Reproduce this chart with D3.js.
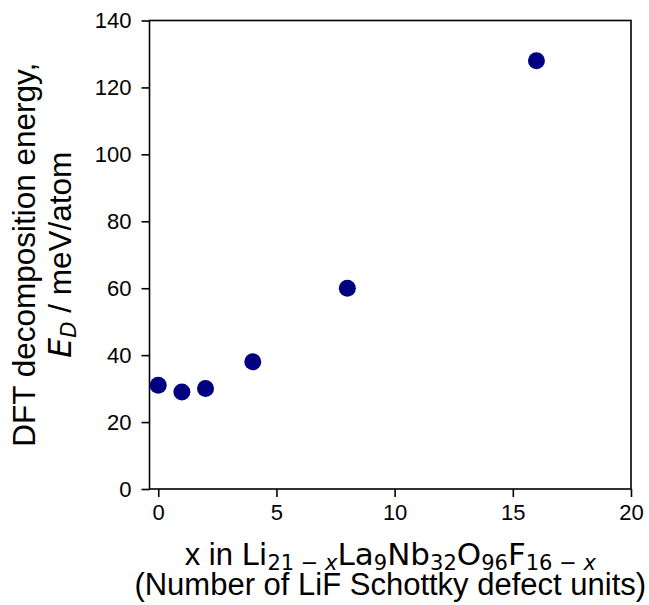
<!DOCTYPE html>
<html lang="en">
<head>
<meta charset="UTF-8">
<title>DFT decomposition energy</title>
<script src="https://d3js.org/d3.v7.min.js"></script>
<style>
  body { margin: 0; background: #fff; }
  svg text { font-family: "Liberation Sans", Arial, sans-serif; fill: #000; }
  .math { font-family: "DejaVu Sans", sans-serif; }
</style>
</head>
<body>
<svg id="chart" width="649" height="605"></svg>
<script>
// data
var xValues = [0, 1, 2, 4, 8, 16];
var energies = [31, 29, 30, 38, 60, 128];
var xTicks = [0, 5, 10, 15, 20];
var yTicks = [0, 20, 40, 60, 80, 100, 120, 140];

var svg = d3.select("#chart");
var margin = {left: 149.5, right: 18, top: 20.5, bottom: 116};
var width = 649, height = 605;

var x = d3.scaleLinear()
    .domain([-0.37, 20])
    .range([margin.left, width - margin.right]);
var y = d3.scaleLinear()
    .domain([0, 140])
    .range([height - margin.bottom, margin.top]);

// axes
var xAxis = svg.append("g")
    .attr("transform", "translate(0," + y(0) + ")")
    .call(d3.axisBottom(x).tickValues(xTicks).tickSize(8).tickPadding(7));
var yAxis = svg.append("g")
    .attr("transform", "translate(" + x.range()[0] + ",0)")
    .call(d3.axisLeft(y).tickValues(yTicks).tickSize(8).tickPadding(10));

[xAxis, yAxis].forEach(function(g) {
  g.select(".domain").remove();
  g.selectAll("line").attr("stroke", "#000").attr("stroke-width", 1.6);
  g.selectAll("text").attr("font-size", 22).style("font-family", "Liberation Sans, Arial, sans-serif");
});

// frame
svg.append("rect")
    .attr("x", x.range()[0])
    .attr("y", y.range()[1])
    .attr("width", x.range()[1] - x.range()[0])
    .attr("height", y.range()[0] - y.range()[1])
    .attr("fill", "none")
    .attr("stroke", "#000")
    .attr("stroke-width", 1.6);

// points
svg.append("g")
  .selectAll("circle")
  .data(xValues)
  .enter()
  .append("circle")
    .attr("cx", function(d) { return x(d); })
    .attr("cy", function(d, i) { return y(energies[i]); })
    .attr("r", 8.5)
    .attr("fill", "#000080");

// x label
var cx = (x.range()[0] + x.range()[1]) / 2;
var xl = svg.append("text")
    .attr("x", cx)
    .attr("y", 565)
    .attr("text-anchor", "middle")
    .attr("font-size", 31);
xl.append("tspan").text("x in ");
function sub(t, txt, italicPart) {
  var s = t.append("tspan").attr("class", "math").attr("font-size", 21).attr("dy", 5).text(txt);
  if (italicPart) s.append("tspan").attr("font-style", "italic").text(italicPart);
}
function main(t, txt) {
  t.append("tspan").attr("class", "math").attr("dy", -5).text(txt);
}
xl.append("tspan").attr("class", "math").text("Li");
sub(xl, "21 \u2212 ", "x");
main(xl, "La"); sub(xl, "9");
main(xl, "Nb"); sub(xl, "32");
main(xl, "O"); sub(xl, "96");
main(xl, "F"); sub(xl, "16 \u2212 ", "x");

svg.append("text")
    .attr("x", cx)
    .attr("y", 595)
    .attr("text-anchor", "middle")
    .attr("font-size", 31)
    .text("(Number of LiF Schottky defect units)");

// y label
var cy = (y.range()[0] + y.range()[1]) / 2;
svg.append("text")
    .attr("transform", "translate(35," + cy + ") rotate(-90)")
    .attr("text-anchor", "middle")
    .attr("font-size", 31.5)
    .text("DFT decomposition energy,");
var yl = svg.append("text")
    .attr("transform", "translate(71," + cy + ") rotate(-90)")
    .attr("text-anchor", "middle")
    .attr("font-size", 31.5);
yl.append("tspan").attr("class", "math").attr("font-style", "italic").text("E");
yl.append("tspan").attr("class", "math").attr("font-style", "italic").attr("font-size", 21).attr("dy", 5).text("D");
yl.append("tspan").attr("dy", -5).text(" / meV/atom");
</script>
</body>
</html>
